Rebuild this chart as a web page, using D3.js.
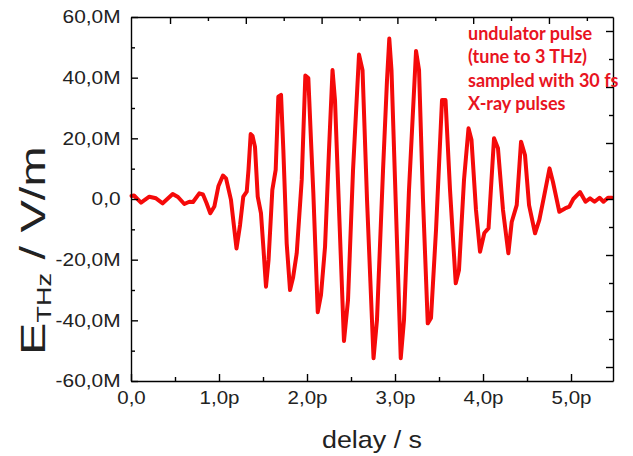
<!DOCTYPE html>
<html>
<head>
<meta charset="utf-8">
<script src="https://cdn.jsdelivr.net/npm/d3@7"></script>
<style>
  body { margin: 0; background: #fff; }
  svg { display: block; }
  .axis path, .axis line { stroke: #000; stroke-width: 1.4; }
  .axis text { font-family: "Liberation Sans", Arial, sans-serif; font-size: 18px; fill: #222; }
</style>
</head>
<body>
<div id="graph"></div>
<script>
// delay in ps, field in MV/m
var delayPs = [0.006, 0.034, 0.114, 0.208, 0.284, 0.360, 0.474, 0.534, 0.606, 0.663,
  0.705, 0.776, 0.818, 0.858, 0.901, 0.947, 0.994, 1.045, 1.080, 1.136,
  1.199, 1.239, 1.276, 1.315, 1.335, 1.360, 1.381, 1.409, 1.440, 1.477,
  1.506, 1.534, 1.563, 1.606, 1.644, 1.674, 1.705, 1.731, 1.769, 1.807,
  1.841, 1.883, 1.940, 1.981, 2.015, 2.045, 2.072, 2.122, 2.159, 2.205,
  2.250, 2.290, 2.318, 2.364, 2.420, 2.466, 2.523, 2.591, 2.631, 2.682,
  2.756, 2.795, 2.864, 2.909, 2.935, 2.960, 3.000, 3.065, 3.102, 3.159,
  3.239, 3.273, 3.318, 3.372, 3.409, 3.466, 3.534, 3.574, 3.625, 3.690,
  3.727, 3.784, 3.835, 3.869, 3.920, 3.966, 4.015, 4.063, 4.125, 4.170,
  4.227, 4.288, 4.326, 4.383, 4.432, 4.477, 4.523, 4.591, 4.640, 4.693,
  4.756, 4.795, 4.867, 4.932, 4.981, 5.026, 5.102, 5.165, 5.216, 5.267,
  5.324, 5.369, 5.420, 5.466];
var fieldMV = [1.0, 1.15, -1.2, 0.76, 0.23, -1.42, 1.65, 0.66, -1.65, -0.89,
  -1.0, 1.88, 1.48, -1.3, -4.7, -2.5, 4.3, 7.75, 6.8, -0.3,
  -16.3, -8.6, 0.8, 2.4, 9.6, 21.4, 20.8, 17.2, 0.8, -4.7,
  -16.8, -28.9, -20.1, 3.0, 9.6, 33.7, 34.3, 16.2, -14.6, -30.0,
  -26.0, -17.9, 6.3, 40.7, 39.9, 19.5, 1.9, -37.3, -31.6, -15.7,
  16.2, 42.5, 32.6, -3.6, -46.8, -33.3, 9.6, 47.6, 42.5, -0.3,
  -52.5, -39.9, 9.6, 39.2, 52.9, 42.5, 6.3, -52.5, -39.9, 3.0,
  48.8, 42.5, -0.3, -41.0, -39.2, -10.2, 32.6, 32.6, 3.0, -27.8,
  -23.4, 6.3, 23.3, 19.5, -3.6, -17.4, -11.2, -9.6, 20.0, 16.7,
  -3.6, -17.9, -7.6, -2.0, 18.9, 14.5, -2.0, -11.3, -6.9, 0.8,
  10.1, 5.6, -4.2, -3.1, -2.5, 0.0, 2.3, -0.9, 0.2, -0.9,
  0.4, -0.9, 0.4, 0.4];

var xTicks = [0, 1, 2, 3, 4, 5];
var xMinor = [0.5, 1.5, 2.5, 3.5, 4.5];
var yTicks = [-60, -40, -20, 0, 20, 40, 60];
var yMinor = [-50, -30, -10, 10, 30, 50];
var topMajor = [0, 2, 4, 6, 8, 10];
var topMinor = [1, 3, 5, 7, 9, 11];
var rightMajor = [-6, -4, -2, 0, 2, 4, 6];
var rightMinor = [-5, -3, -1, 1, 3, 5];
var note = ["undulator pulse", "(tune to 3 THz)", "sampled with 30 fs", "X-ray pulses"];

var W = 633, H = 456;
var pLeft = 131, pRight = 613, pTop = 17, pBottom = 381;

var x = d3.scaleLinear().domain([0, 5.477]).range([pLeft, pRight]);
var y = d3.scaleLinear().domain([-60, 60]).range([pBottom, pTop]);
// the unlabelled top and right axes have their own spacing
var xTop = d3.scaleLinear().domain([-1.03, 11.69]).range([pLeft, pRight]);
var yRight = d3.scaleLinear().domain([-6.5, 6.5]).range([pBottom, pTop]);

function fmt(d, unit) {
  if (d === 0) return "0,0";
  return d.toFixed(1).replace(".", ",") + unit;
}

var svg = d3.select("#graph").append("svg")
  .attr("width", W)
  .attr("height", H);

// curve
var line = d3.line()
  .x((d, i) => x(delayPs[i]))
  .y((d) => y(d));

svg.append("path")
  .datum(fieldMV)
  .attr("d", line)
  .attr("fill", "none")
  .attr("stroke", "#f50a0a")
  .attr("stroke-width", 4)
  .attr("stroke-linejoin", "round")
  .attr("stroke-linecap", "round");

// axes
var gx = svg.append("g").attr("class", "axis")
  .attr("transform", "translate(0," + pBottom + ")")
  .call(d3.axisBottom(x).tickValues(xTicks).tickSizeInner(-7).tickSizeOuter(0)
    .tickPadding(10).tickFormat((d) => fmt(d, "p")));
gx.selectAll("text").attr("transform", "scale(1.14,1)");
svg.append("g").attr("class", "axis")
  .attr("transform", "translate(0," + pBottom + ")")
  .call(d3.axisBottom(x).tickValues(xMinor).tickSize(-4).tickFormat(""))
  .select(".domain").remove();

var gy = svg.append("g").attr("class", "axis")
  .attr("transform", "translate(" + pLeft + ",0)")
  .call(d3.axisLeft(y).tickValues(yTicks).tickSizeInner(-7).tickSizeOuter(0)
    .tickPadding(9).tickFormat((d) => fmt(d, "M")));
gy.selectAll("text").attr("transform", "scale(1.16,1)");
svg.append("g").attr("class", "axis")
  .attr("transform", "translate(" + pLeft + ",0)")
  .call(d3.axisLeft(y).tickValues(yMinor).tickSize(-4).tickFormat(""))
  .select(".domain").remove();

svg.append("g").attr("class", "axis")
  .attr("transform", "translate(0," + pTop + ")")
  .call(d3.axisTop(xTop).tickValues(topMajor).tickSizeInner(-7).tickSizeOuter(0).tickFormat(""));
svg.append("g").attr("class", "axis")
  .attr("transform", "translate(0," + pTop + ")")
  .call(d3.axisTop(xTop).tickValues(topMinor).tickSize(-4).tickFormat(""))
  .select(".domain").remove();

svg.append("g").attr("class", "axis")
  .attr("transform", "translate(" + pRight + ",0)")
  .call(d3.axisRight(yRight).tickValues(rightMajor).tickSizeInner(-7).tickSizeOuter(0).tickFormat(""));
svg.append("g").attr("class", "axis")
  .attr("transform", "translate(" + pRight + ",0)")
  .call(d3.axisRight(yRight).tickValues(rightMinor).tickSize(-4).tickFormat(""))
  .select(".domain").remove();

// axis titles
svg.append("text")
  .attr("transform", "translate(" + ((pLeft + pRight) / 2) + ",448) scale(1.12,1)")
  .attr("text-anchor", "middle")
  .style("font-family", "Liberation Sans, Arial, sans-serif")
  .style("font-size", "24px")
  .style("fill", "#222")
  .text("delay / s");

var yt = svg.append("text")
  .attr("transform", "translate(45,355) rotate(-90) scale(1.35,1)")
  .attr("text-anchor", "start")
  .style("font-family", "Liberation Sans, Arial, sans-serif")
  .style("font-size", "36px")
  .style("fill", "#222");
yt.append("tspan").text("E");
yt.append("tspan").attr("dy", 6).style("font-size", "20px").text("THz");
yt.append("tspan").attr("dy", -6).text(" / V/m");

// note
svg.append("g").selectAll("text")
  .data(note)
  .enter().append("text")
  .attr("x", 468)
  .attr("y", (d, i) => 40 + i * 23.3)
  .style("font-family", "Lato, Open Sans, sans-serif")
  .style("font-weight", "bold")
  .style("font-size", "18px")
  .style("fill", "#e8141f")
  .text((d) => d);
</script>
</body>
</html>
